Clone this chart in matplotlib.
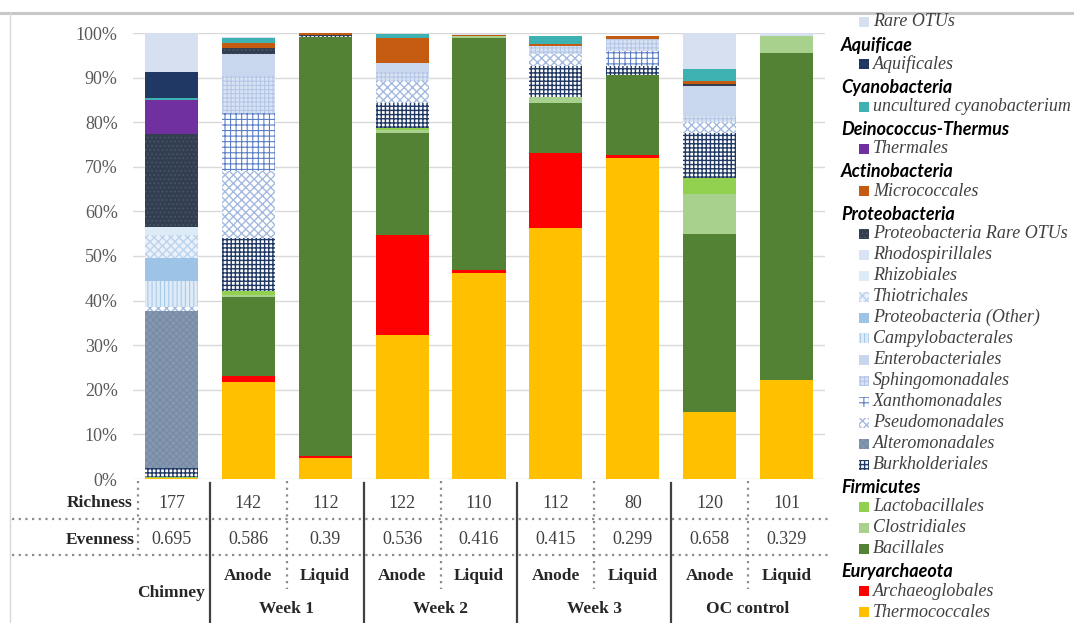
import numpy as np
import matplotlib
matplotlib.use('Agg')
import matplotlib.pyplot as plt
from matplotlib import transforms
from matplotlib.patches import Rectangle
from matplotlib.lines import Line2D

# --- data -----------------------------------------------------------------
samples = ['Chimney', 'W1 Anode', 'W1 Liquid', 'W2 Anode', 'W2 Liquid',
           'W3 Anode', 'W3 Liquid', 'OC Anode', 'OC Liquid']
sample_type = ['', 'Anode', 'Liquid', 'Anode', 'Liquid', 'Anode', 'Liquid', 'Anode', 'Liquid']
groups = ['Week 1', 'Week 2', 'Week 3', 'OC control']
richness = ['177', '142', '112', '122', '110', '112', '80', '120', '101']
evenness = ['0.695', '0.586', '0.39', '0.536', '0.416', '0.415', '0.299', '0.658', '0.329']

# relative abundance (%), stacked bottom -> top
thermococcales = [0.3, 21.7, 4.7, 32.2, 46.3, 56.2, 72.0, 15.0, 22.1]
archaeoglobales = [0, 1.3, 0.4, 22.4, 0.5, 17.0, 0.7, 0, 0]
bacillales = [0, 17.7, 94.0, 23.0, 52.1, 11.1, 17.9, 40.0, 73.4]
clostridiales = [0, 0.6, 0, 0.7, 0.4, 1.4, 0, 9.0, 3.8]
lactobacillales = [0.2, 0.8, 0, 0.5, 0, 0, 0, 3.6, 0]
burkholderiales = [2.0, 12.0, 0.3, 5.6, 0, 6.9, 1.9, 10.0, 0]
alteromonadales = [35.2, 0, 0, 0, 0, 0, 0, 0, 0]
pseudomonadales = [0.8, 15.0, 0, 4.9, 0, 2.7, 0, 2.5, 0]
xanthomonadales = [0, 13.0, 0, 0, 0, 0, 3.4, 0, 0]
sphingomonadales = [0, 8.3, 0, 2.0, 0, 1.8, 2.7, 1.3, 0]
enterobacteriales = [0, 4.9, 0, 2.0, 0, 0, 0, 6.7, 0]
campylobacterales = [5.8, 0, 0, 0, 0, 0, 0, 0, 0]
proteo_other = [5.2, 0, 0, 0, 0, 0, 0, 0, 0]
thiotrichales = [5.3, 0, 0, 0, 0, 0, 0, 0, 0]
rhizobiales = [1.6, 0, 0, 0, 0, 0, 0, 0, 0]
rhodospirillales = [0, 0, 0, 0, 0, 0, 0, 0, 0]
proteo_rare = [21.0, 1.3, 0.1, 0, 0, 0, 0, 0.5, 0]
micrococcales = [0, 1.2, 0.5, 5.6, 0.3, 0.5, 0.8, 0.7, 0]
thermales = [7.6, 0, 0, 0, 0, 0, 0, 0, 0]
cyanobacterium = [0.5, 1.1, 0, 0.9, 0, 1.7, 0, 2.6, 0]
aquificales = [5.8, 0, 0, 0, 0, 0, 0, 0, 0]
rare_otus = [8.7, 0.3, 0, 0, 0.2, 0, 0, 8.1, 0.6]

stack = [
    ('Thermococcales', thermococcales),
    ('Archaeoglobales', archaeoglobales),
    ('Bacillales', bacillales),
    ('Clostridiales', clostridiales),
    ('Lactobacillales', lactobacillales),
    ('Burkholderiales', burkholderiales),
    ('Alteromonadales', alteromonadales),
    ('Pseudomonadales', pseudomonadales),
    ('Xanthomonadales', xanthomonadales),
    ('Sphingomonadales', sphingomonadales),
    ('Enterobacteriales', enterobacteriales),
    ('Campylobacterales', campylobacterales),
    ('Proteobacteria (Other)', proteo_other),
    ('Thiotrichales', thiotrichales),
    ('Rhizobiales', rhizobiales),
    ('Rhodospirillales', rhodospirillales),
    ('Proteobacteria Rare OTUs', proteo_rare),
    ('Micrococcales', micrococcales),
    ('Thermales', thermales),
    ('uncultured cyanobacterium', cyanobacterium),
    ('Aquificales', aquificales),
    ('Rare OTUs', rare_otus),
]

# legend: (phylum header, [orders])
legend_groups = [
    (None, ['Rare OTUs']),
    ('Aquificae', ['Aquificales']),
    ('Cyanobacteria', ['uncultured cyanobacterium']),
    ('Deinococcus-Thermus', ['Thermales']),
    ('Actinobacteria', ['Micrococcales']),
    ('Proteobacteria', ['Proteobacteria Rare OTUs', 'Rhodospirillales', 'Rhizobiales',
                        'Thiotrichales', 'Proteobacteria (Other)', 'Campylobacterales',
                        'Enterobacteriales', 'Sphingomonadales', 'Xanthomonadales',
                        'Pseudomonadales', 'Alteromonadales', 'Burkholderiales']),
    ('Firmicutes', ['Lactobacillales', 'Clostridiales', 'Bacillales']),
    ('Euryarchaeota', ['Archaeoglobales', 'Thermococcales']),
]

# face colour, hatch, hatch colour, hatch linewidth
styles = {
    'Thermococcales': ('#FFC000', None, None, 1),
    'Archaeoglobales': ('#FF0000', None, None, 1),
    'Bacillales': ('#548235', None, None, 1),
    'Clostridiales': ('#A9D18E', None, None, 1),
    'Lactobacillales': ('#92D050', None, None, 1),
    'Burkholderiales': ('white', '++++', '#1F3864', 1.0),
    'Alteromonadales': ('#8497B0', 'xxxxx', '#7788A2', 0.6),
    'Pseudomonadales': ('white', 'xxxx', '#A3B9DF', 1.0),
    'Xanthomonadales': ('white', '+++', '#5B7FC4', 0.8),
    'Sphingomonadales': ('#DAE3F3', '++++', '#B4C7E7', 0.8),
    'Enterobacteriales': ('#C9D7EE', None, None, 1),
    'Campylobacterales': ('#DEEBF7', '||||', '#A8CBEA', 0.8),
    'Proteobacteria (Other)': ('#9DC3E6', None, None, 1),
    'Thiotrichales': ('#EAF1FA', 'xxxx', '#BCD3EE', 1.0),
    'Rhizobiales': ('#DDEBF7', None, None, 1),
    'Rhodospirillales': ('#DAE3F3', None, None, 1),
    'Proteobacteria Rare OTUs': ('#333F50', '....', '#4A586C', 0.6),
    'Micrococcales': ('#C55A11', None, None, 1),
    'Thermales': ('#7030A0', None, None, 1),
    'uncultured cyanobacterium': ('#3EB2B2', None, None, 1),
    'Aquificales': ('#1F3864', None, None, 1),
    'Rare OTUs': ('#D6E0F0', None, None, 1),
}

W, H = 1074, 623
SERIF = 'Liberation Serif'
TXT = '#404040'
DARK = '#262626'

fig = plt.figure(figsize=(W / 100, H / 100), dpi=100)
ax = fig.add_axes([133 / W, 1 - 479 / H, (825 - 133) / W, (479 - 33) / H])

x = np.arange(len(samples))
bottom = np.zeros(len(samples))
for name, vals in stack:
    face, hatch, hcol, hlw = styles[name]
    with plt.rc_context({'hatch.linewidth': hlw}):
        ax.bar(x, vals, 0.69, bottom=bottom, color=face,
               edgecolor=hcol if hcol else face, hatch=hatch, linewidth=0, zorder=2)
    bottom += np.array(vals)

ax.set_xlim(-0.5, 8.5)
ax.set_ylim(0, 100)
ax.set_yticks(np.arange(0, 101, 10))
ax.set_yticklabels([f'{v}%' for v in range(0, 101, 10)], fontfamily=SERIF,
                   fontsize=13, color='#595959')
ax.set_xticks([])
ax.tick_params(axis='y', length=0, pad=11)
ax.grid(axis='y', color='#D9D9D9', linewidth=1, zorder=0)
for s in ax.spines.values():
    s.set_visible(False)

# --- table under the bars ---------------------------------------------------
fy = lambda py: 1 - py / H
tr = transforms.blended_transform_factory(ax.transData, fig.transFigure)

fig.text(100 / W, fy(503), 'Richness', ha='center', va='center', fontfamily=SERIF,
         fontweight='bold', fontsize=12.5, color=DARK)
fig.text(100 / W, fy(540), 'Evenness', ha='center', va='center', fontfamily=SERIF,
         fontweight='bold', fontsize=12.5, color=DARK)
for i in range(len(samples)):
    ax.text(i, fy(503), richness[i], transform=tr, ha='center', va='center',
            fontfamily=SERIF, fontsize=13, color=TXT)
    ax.text(i, fy(540), evenness[i], transform=tr, ha='center', va='center',
            fontfamily=SERIF, fontsize=13, color=TXT)
    if sample_type[i]:
        ax.text(i, fy(576), sample_type[i], transform=tr, ha='center', va='center',
                fontfamily=SERIF, fontweight='bold', fontsize=12.5, color=DARK)
ax.text(0, fy(593), 'Chimney', transform=tr, ha='center', va='center',
        fontfamily=SERIF, fontweight='bold', fontsize=12.5, color=DARK)
for g, label in enumerate(groups):
    ax.text(1.5 + 2 * g, fy(609), label, transform=tr, ha='center', va='center',
            fontfamily=SERIF, fontweight='bold', fontsize=12.5, color=DARK)

dot = dict(color='#8C8C8C', linewidth=1.6, linestyle=(0, (1, 2)))
for py in (519, 555):
    fig.add_artist(Line2D([12 / W, 828 / W], [fy(py), fy(py)], transform=fig.transFigure, **dot))
fig.add_artist(Line2D([-0.5 + 0.07, -0.5 + 0.07], [fy(481), fy(555)], transform=tr, **dot))
for xb in (1.5, 3.5, 5.5, 7.5):
    fig.add_artist(Line2D([xb, xb], [fy(481), fy(589)], transform=tr, **dot))
for xb in (0.5, 2.5, 4.5, 6.5):
    fig.add_artist(Line2D([xb, xb], [fy(483), fy(623)], transform=tr,
                          color='#404040', linewidth=1.6))

# screenshot frame
fig.add_artist(Line2D([0, 1], [fy(13), fy(13)], transform=fig.transFigure,
                      color='#C8C8C8', linewidth=2.2))
fig.add_artist(Line2D([10 / W, 10 / W], [fy(13), 0], transform=fig.transFigure,
                      color='#D8D8D8', linewidth=1))

# --- legend -----------------------------------------------------------------
py = 22
for header, items in legend_groups:
    if header is not None:
        py += 23.0
        fig.text(841 / W, fy(py), header, ha='left', va='center', fontfamily=['Lato', 'DejaVu Sans'],
                 fontweight='bold', fontstyle='italic', fontsize=13, color='black')
        py += 19.3
    for k, name in enumerate(items):
        if k > 0:
            py += 21.0
        face, hatch, hcol, hlw = styles[name]
        with plt.rc_context({'hatch.linewidth': hlw}):
            fig.add_artist(Rectangle((859 / W, fy(py + 5)), 10 / W, 10 / H,
                                     transform=fig.transFigure, facecolor=face,
                                     edgecolor=hcol if hcol else face, hatch=hatch,
                                     linewidth=0))
        fig.text(873 / W, fy(py), name, ha='left', va='center', fontfamily=SERIF,
                 fontstyle='italic', fontsize=13, color=TXT)

fig.savefig('out.png', dpi=100)
